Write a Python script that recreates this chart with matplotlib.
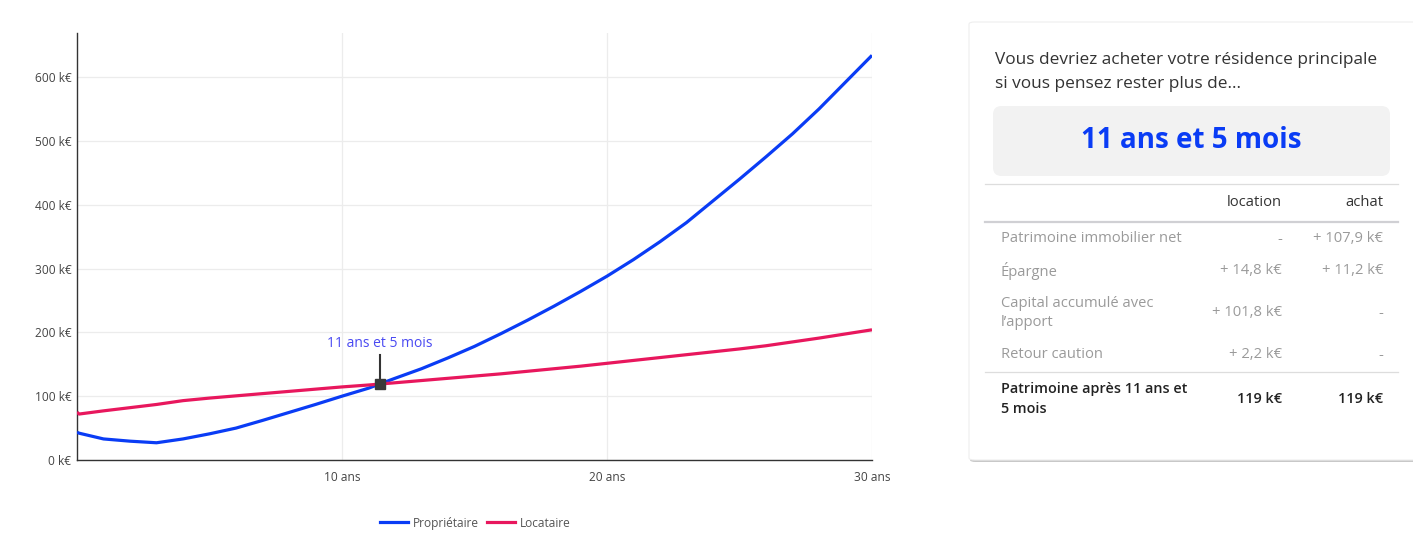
import matplotlib
matplotlib.use("Agg")
import matplotlib.pyplot as plt
from matplotlib.patches import FancyBboxPatch
from matplotlib.lines import Line2D

plt.rcParams['font.family'] = ['Open Sans', 'DejaVu Sans']

# ---- data -------------------------------------------------------------
years = [0, 0.08, 1, 2, 3, 4, 5, 6, 7, 8, 9, 10, 11, 12, 13, 14, 15, 16,
         17, 18, 19, 20, 21, 22, 23, 24, 25, 26, 27, 28, 29, 30]
proprietaire = [43.5, 42, 33, 29.5, 27, 33, 41, 50, 62, 74.5, 87, 100, 112.5,
                128, 143, 160, 178, 198, 219, 241, 264, 288, 314, 342, 372,
                406, 440, 475, 511, 550, 592, 634]
locataire = [75, 72, 77, 82, 87, 93, 97, 100.5, 104, 107.5, 111, 114.5, 117.5,
             121, 124.5, 128, 131.5, 135, 139, 143, 147, 151.5, 156, 160.5,
             165, 169.5, 174, 179, 185, 191, 197.5, 204]

breakeven_years = 11 + 5 / 12
breakeven_value = 119
breakeven_label = "11 ans et 5 mois"

y_ticks = [0, 100, 200, 300, 400, 500, 600]
x_ticks = [10, 20, 30]
series_names = ["Propriétaire", "Locataire"]

table_header = ["location", "achat"]
table_rows = [
    ("Patrimoine immobilier net", "-", "+ 107,9 k€"),
    ("Épargne", "+ 14,8 k€", "+ 11,2 k€"),
    ("Capital accumulé avec\nl’apport", "+ 101,8 k€", "-"),
    ("Retour caution", "+ 2,2 k€", "-"),
]
total_label = "Patrimoine après 11 ans et\n5 mois"
total_location = "119 k€"
total_achat = "119 k€"

BLUE = "#0a3cf5"
RED = "#e8175d"

W, H = 1413, 537
fig = plt.figure(figsize=(W / 100, H / 100), dpi=100)


def fx(x):
    return x / W


def fy(y):
    return 1 - y / H


# ---- chart ------------------------------------------------------------
ax = fig.add_axes([fx(77), fy(460), (872 - 77) / W, (460 - 33) / H])
ax.set_xlim(0, 30)
ax.set_ylim(0, 669)
ax.grid(True, color="#ececec", linewidth=0.9)
ax.set_axisbelow(True)
ax.set_yticks(y_ticks)
ax.set_yticklabels([f"{v} k€" for v in y_ticks])
ax.set_xticks(x_ticks)
ax.set_xticklabels([f"{v} ans" for v in x_ticks])
ax.tick_params(axis="y", length=0, labelsize=8.6, colors="#444444", pad=4)
ax.tick_params(axis="x", length=0, labelsize=8.6, colors="#444444", pad=8)
for side in ("top", "right"):
    ax.spines[side].set_visible(False)
for side in ("left", "bottom"):
    ax.spines[side].set_color("#333333")
    ax.spines[side].set_linewidth(1.0)

ax.plot(years, proprietaire, color=BLUE, lw=2.3, solid_capstyle="butt",
        zorder=3)
ax.plot(years, locataire, color=RED, lw=2.3, solid_capstyle="butt",
        zorder=3)

# break-even annotation
ax.plot([breakeven_years, breakeven_years],
        [breakeven_value, breakeven_value + 45], color="#333333", lw=1.5,
        zorder=4)
ax.plot([breakeven_years], [breakeven_value], marker="s", ms=6.5,
        color="#3a3a3a", zorder=5)
ax.text(breakeven_years, breakeven_value + 51, breakeven_label,
        ha="center", va="bottom", fontsize=10, color="#4a4af2", zorder=5)

# legend below the chart
for color, name, x0 in zip([BLUE, RED], series_names, [380, 487]):
    fig.add_artist(Line2D([fx(x0), fx(x0 + 28)], [fy(522), fy(522)],
                          transform=fig.transFigure, color=color, lw=2.3))
    fig.text(fx(x0 + 33), fy(522), name, fontsize=8.6, color="#555555",
             ha="left", va="center_baseline")

# ---- summary card -----------------------------------------------------
shadow = FancyBboxPatch((fx(970), fy(462)), fx(1440 - 970), (462 - 23) / H,
                        boxstyle="round,pad=0,rounding_size=0.004",
                        transform=fig.transFigure, facecolor="#c8c8c8",
                        edgecolor="none", zorder=0)
fig.add_artist(shadow)
card = FancyBboxPatch((fx(969), fy(460)), fx(1440 - 969), (460 - 22) / H,
                      boxstyle="round,pad=0,rounding_size=0.004",
                      transform=fig.transFigure, facecolor="white",
                      edgecolor="#eeeeee", lw=0.8, zorder=1)
fig.add_artist(card)

fig.text(fx(995), fy(60), "Vous devriez acheter votre résidence principale",
         fontsize=12.4, color="#333333", va="center", zorder=3)
fig.text(fx(995), fy(84), "si vous pensez rester plus de...",
         fontsize=12.4, color="#333333", va="center", zorder=3)

box = FancyBboxPatch((fx(993), fy(176)), fx(1390 - 993), (176 - 106) / H,
                     boxstyle="round,pad=0,rounding_size=0.006",
                     transform=fig.transFigure, facecolor="#f2f2f2",
                     edgecolor="none", zorder=2, mutation_aspect=W / H)
fig.add_artist(box)
fig.text(fx(1191), fy(141), breakeven_label, fontsize=20, fontweight="bold",
         color=BLUE, ha="center", va="center", zorder=3)


def hline(y, color, lw):
    fig.add_artist(Line2D([fx(985), fx(1398)], [fy(y), fy(y)],
                          transform=fig.transFigure, color=color, lw=lw,
                          zorder=3))


hline(184.5, "#dddddd", 0.9)
for txt, x in zip(table_header, [1282, 1383]):
    fig.text(fx(x), fy(203), txt, fontsize=10.6, color="#333333",
             ha="right", va="center", zorder=3)
hline(222, "#d0d0d4", 1.6)

row_y = [239, 271, 313, 355]
for (label, loc, ach), y in zip(table_rows, row_y):
    fig.text(fx(1001), fy(y), label, fontsize=10.6, color="#9a9a9a",
             ha="left", va="center", linespacing=1.45, zorder=3)
    fig.text(fx(1282), fy(y), loc, fontsize=10.6, color="#9a9a9a",
             ha="right", va="center", zorder=3)
    fig.text(fx(1383), fy(y), ach, fontsize=10.6, color="#9a9a9a",
             ha="right", va="center", zorder=3)

hline(372, "#dddddd", 0.9)
fig.text(fx(1001), fy(399), total_label, fontsize=10.4, color="#222222",
         fontweight="semibold", ha="left", va="center", linespacing=1.55,
         zorder=3)
fig.text(fx(1282), fy(399), total_location, fontsize=10.4, color="#222222",
         fontweight="semibold", ha="right", va="center", zorder=3)
fig.text(fx(1383), fy(399), total_achat, fontsize=10.4, color="#222222",
         fontweight="semibold", ha="right", va="center", zorder=3)

fig.savefig("out.png", dpi=100, facecolor="white")
